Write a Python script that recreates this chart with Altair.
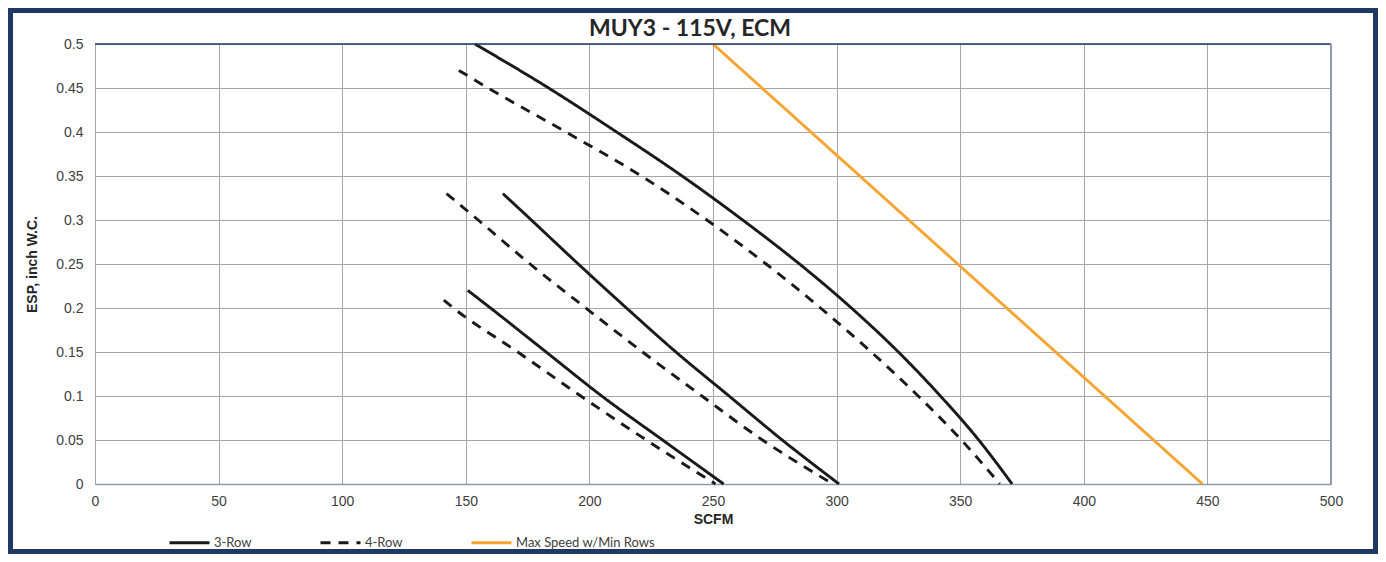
import altair as alt
import pandas as pd

# ---- data ----
x_ticks = [0, 50, 100, 150, 200, 250, 300, 350, 400, 450, 500]
y_ticks = [0, 0.05, 0.1, 0.15, 0.2, 0.25, 0.3, 0.35, 0.4, 0.45, 0.5]

series_names = ["3-Row", "4-Row", "Max Speed w/Min Rows"]
title_text = ["MUY3 - 115V, ECM"]

# high curves
hi3_esp = [0.5, 0.45, 0.4, 0.35, 0.3, 0.25, 0.2, 0.15, 0.1, 0.05, 0.0]
hi3_scfm = [153.7, 183.5, 211, 237.5, 262, 285, 306, 325, 342, 357.5, 371]
hi4_esp = [0.47, 0.45, 0.4, 0.35, 0.3, 0.25, 0.2, 0.15, 0.1, 0.05, 0.0]
hi4_scfm = [147.2, 159, 190.5, 221, 247.5, 271.5, 293.5, 314, 333, 350.5, 366]

# middle curves
mid3_esp = [0.33, 0.3, 0.25, 0.2, 0.15, 0.1, 0.05, 0.0]
mid3_scfm = [165, 176.5, 195.5, 215, 235, 256.5, 278, 301]
mid4_esp = [0.33, 0.3, 0.25, 0.2, 0.15, 0.1, 0.05, 0.0]
mid4_scfm = [142.2, 155, 176, 198.5, 221.5, 245.5, 270, 298.5]

# low curves
low3_esp = [0.22, 0.2, 0.15, 0.1, 0.05, 0.0]
low3_scfm = [150.8, 160, 182.5, 205, 229.6, 254.3]
low4_esp = [0.209, 0.2, 0.15, 0.1, 0.05, 0.0]
low4_scfm = [141.1, 145, 171, 196.5, 223, 251]

# max speed line
max_esp = [0.5, 0.0]
max_scfm = [250, 448]

curves = [
    ("3-Row", "hi3", hi3_scfm, hi3_esp),
    ("4-Row", "hi4", hi4_scfm, hi4_esp),
    ("3-Row", "mid3", mid3_scfm, mid3_esp),
    ("4-Row", "mid4", mid4_scfm, mid4_esp),
    ("3-Row", "low3", low3_scfm, low3_esp),
    ("4-Row", "low4", low4_scfm, low4_esp),
    ("Max Speed w/Min Rows", "max", max_scfm, max_esp),
]

rows = []
for s, c, xs, ys in curves:
    for xv, yv in zip(xs, ys):
        rows.append({"series": s, "curve": c, "scfm": xv, "esp": yv})
df = pd.DataFrame(rows)

W, H = 1236, 440
PL, PT, PR, PB = 87, 36, 47, 70
TOTAL_W = PL + W + PR
TOTAL_H = PT + H + PB
FRAME_W = 5

FONT = "Liberation Sans"
NAVY = "#203864"

legend = alt.Legend(
    orient="none", legendX=73, legendY=477, direction="horizontal",
    symbolType="stroke", symbolSize=1600, symbolStrokeWidth=3,
    labelFont="Lato", labelFontSize=13, labelColor="#404040", labelOffset=3,
    columnPadding=62, title=None, padding=0,
)

xscale = alt.Scale(domain=[0, 500], nice=False)
yscale = alt.Scale(domain=[0, 0.5], nice=False)

lines = alt.Chart(df).mark_line(strokeWidth=2.9, interpolate="monotone").encode(
    x=alt.X("scfm:Q", scale=xscale,
            axis=alt.Axis(values=x_ticks, grid=True, gridColor="#A6A6A6", gridWidth=1,
                          ticks=False, domainColor="#8E9AAF", domainWidth=1.5,
                          labelFont=FONT, labelFontSize=14, labelColor="#404040",
                          labelPadding=10, labelFlush=False, labelOverlap=False,
                          title="SCFM", titleFont=FONT, titleFontSize=14,
                          titleFontWeight="bold", titleColor="#262626", titlePadding=4)),
    y=alt.Y("esp:Q", scale=yscale,
            axis=alt.Axis(values=y_ticks, format="~g", grid=True, gridColor="#A6A6A6",
                          gridWidth=1, domain=False, ticks=False,
                          labelFont=FONT, labelFontSize=14, labelColor="#404040",
                          labelPadding=12, labelOverlap=False,
                          title="ESP, inch W.C.", titleFont=FONT, titleFontSize=14,
                          titleFontWeight="bold", titleColor="#262626", titlePadding=16)),
    color=alt.Color("series:N",
                    scale=alt.Scale(domain=series_names,
                                    range=["#1a1a1a", "#1a1a1a", "#F7A532"]),
                    legend=legend),
    strokeDash=alt.StrokeDash("series:N",
                              scale=alt.Scale(domain=series_names,
                                              range=[[1, 0], [10, 8], [1, 0]]),
                              legend=legend),
    detail="curve:N",
)

top_rule = alt.Chart(pd.DataFrame({"k": [0]})).mark_rule(color=NAVY, strokeWidth=1.5).encode(
    y=alt.datum(0.5, scale=yscale)
)
right_rule = alt.Chart(pd.DataFrame({"k": [0]})).mark_rule(color="#8E9AAF", strokeWidth=2).encode(
    x=alt.datum(500, scale=xscale)
)

half = FRAME_W / 2
frame = alt.Chart(pd.DataFrame({"k": [0]})).mark_rect(
    fillOpacity=0, stroke=NAVY, strokeWidth=FRAME_W
).encode(
    x=alt.value(-PL + half), x2=alt.value(TOTAL_W - PL - half),
    y=alt.value(-PT + half), y2=alt.value(TOTAL_H - PT - half),
)

title = alt.Chart(pd.DataFrame({"t": title_text})).mark_text(
    font="Lato", fontSize=23, fontWeight="bold", color="#262626",
    align="center", baseline="alphabetic",
).encode(
    text="t:N", x=alt.value(595), y=alt.value(-8),
)

chart = alt.layer(frame, lines, top_rule, right_rule, title).properties(
    width=W, height=H,
    autosize=alt.AutoSizeParams(type="none"),
    padding={"left": PL, "top": PT, "right": PR, "bottom": PB},
    background="white",
).configure_view(stroke=None)

chart.save("out.html", embed_options={"renderer": "svg", "actions": False})
